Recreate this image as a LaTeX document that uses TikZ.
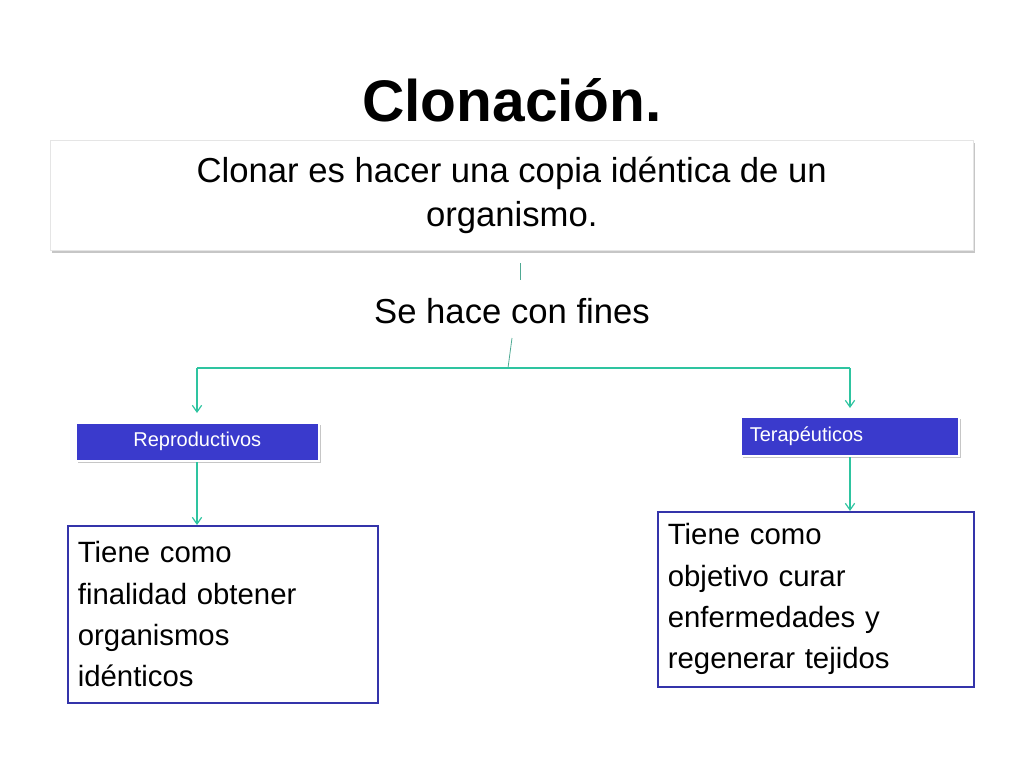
\documentclass[tikz,border=0pt]{standalone}
\usetikzlibrary{arrows.meta}
\usepackage{fontspec}
\setmainfont{Liberation Sans}
\definecolor{teal1}{HTML}{2EC4A0}
\definecolor{blu}{HTML}{3A3ACC}
\definecolor{bord}{HTML}{3434AA}
\begin{document}
\begin{tikzpicture}[x=0.75pt,y=-0.75pt,
 conn/.style={teal1,line width=0.9pt},
 arr/.style={conn,-{Straight Barb[length=5pt,width=7pt]}},
 tag/.style={fill=blu,text=white,draw=white,line width=1.2pt,font=\fontsize{15}{18}\selectfont,anchor=north west,inner sep=0pt},
 txt/.style={draw=bord,line width=1.3pt,anchor=north west,inner sep=0pt,font=\fontsize{22}{31}\selectfont,align=left}]
\useasboundingbox (0,0) rectangle (1024,768);
\node[font=\fontsize{44}{50}\selectfont\bfseries] (title) at (512,100) {Clonación.};
\fill[gray!45] (52,143) rectangle (975,253);
\node[draw=gray!20,fill=white,minimum width=923*0.75pt,minimum height=110*0.75pt,anchor=north west,inner sep=0pt,align=center,font=\fontsize{26}{33}\selectfont] (def) at (50,140) {Clonar es hacer una copia idéntica de un\\organismo.};
\node[font=\fontsize{26}{30}\selectfont] (se) at (512,311) {Se hace con fines};
\draw[teal1!60!gray,line width=0.6pt] (520,263) -- (520,280);
\coordinate (j) at (508,368);
\draw[teal1!60!gray,line width=0.6pt] (512,338) -- (j);
\coordinate (l) at (197,368);
\coordinate (r) at (850,368);
\draw[conn] (l) -- (r);
\fill[gray!45] (78,425) rectangle (321,463);
\node[tag,minimum width=243*0.75pt,minimum height=38*0.75pt] (rep) at (75,422) {Reproductivos};
\fill[gray!45] (743,419) rectangle (961,458);
\node[tag,minimum width=218*0.75pt,minimum height=39*0.75pt,text width=200*0.75pt,align=left] (ter) at (740,416) {Terapéuticos};
\draw[arr] (l) -- (197,413);
\draw[arr] (r) -- (850,408);
\node[txt,minimum width=308*0.75pt,minimum height=177*0.75pt,text width=290*0.75pt,inner xsep=10*0.75pt,inner ysep=10*0.75pt] (lt) at (67,525) {Tiene como\\finalidad obtener\\organismos\\idénticos};
\node[txt,minimum width=314*0.75pt,minimum height=175*0.75pt,text width=296*0.75pt,inner xsep=10*0.75pt,inner ysep=6*0.75pt] (rt) at (657,511) {Tiene como\\objetivo curar\\enfermedades y\\regenerar tejidos};
\draw[arr] (197,462) -- (lt.north -| 197,0);
\draw[arr] (850,457) -- (rt.north -| 850,0);
\end{tikzpicture}
\end{document}
